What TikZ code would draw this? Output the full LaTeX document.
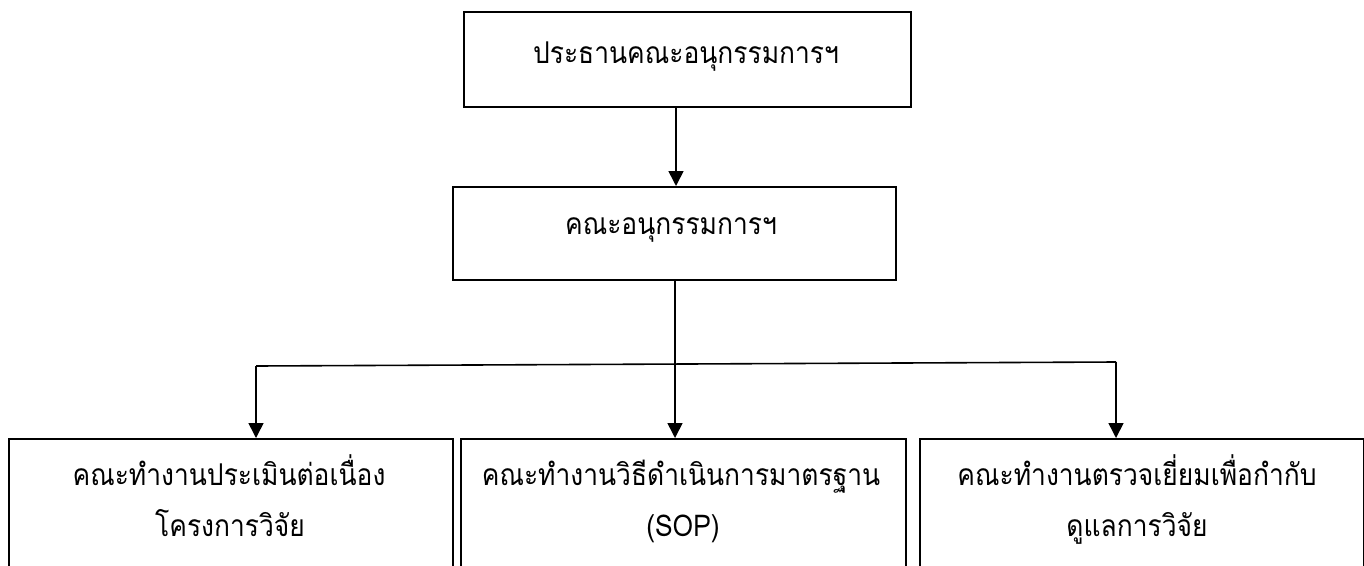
\documentclass[tikz,border=0pt]{standalone}
\usepackage{fontspec}
\setmainfont[Script=Thai,FakeStretch=0.88]{Loma}
\usetikzlibrary{arrows.meta}
\begin{document}
\begin{tikzpicture}[x=1pt,y=-1pt,
  box/.style={draw=black,line width=1.6pt,inner sep=0pt,anchor=north west},
  lbl/.style={font=\fontsize{30}{34}\selectfont,inner sep=0pt,anchor=base},
  conn/.style={line width=1.6pt},
  arr/.style={line width=1.6pt,-{Triangle[width=15pt,length=15pt]}}]
\useasboundingbox (0,0) rectangle (1364,565);
\node[box,minimum width=447pt,minimum height=95pt] (top) at (463,11) {};
\node[box,minimum width=443pt,minimum height=93pt] (mid) at (452,186) {};
\node[box,minimum width=444pt,minimum height=160pt] (b1) at (8,438) {};
\node[box,minimum width=445pt,minimum height=160pt] (b2) at (460,438) {};
\node[box,minimum width=444pt,minimum height=160pt] (b3) at (919,438) {};
\node[lbl] (ttop) at (686,63) {ประธานคณะอนุกรรมการฯ};
\node[lbl] (tmid) at (671,234) {คณะอนุกรรมการฯ};
\node[lbl] (t1a) at (229,485) {คณะทำงานประเมินต่อเนื่อง};
\node[lbl] (t1b) at (230,536) {โครงการวิจัย};
\node[lbl] (t2a) at (681,485) {คณะทำงานวิธีดำเนินการมาตรฐาน};
\node[lbl] (t2b) at (683,536) {(SOP)};
\node[lbl] (t3a) at (1137,485) {คณะทำงานตรวจเยี่ยมเพื่อกำกับ};
\node[lbl] (t3b) at (1137,536) {ดูแลการวิจัย};
\coordinate (hl) at (256,366);
\coordinate (hm) at (675,364);
\coordinate (hr) at (1116,362);
\draw[arr] (top.south -| 676,0) -- (mid.north -| 676,0);
\draw[conn] (mid.south -| hm) -- (hm);
\draw[conn] (hl) -- (hr);
\draw[arr] (hl) -- (b1.north -| hl);
\draw[arr] (hm) -- (b2.north -| hm);
\draw[arr] (hr) -- (b3.north -| hr);
\end{tikzpicture}
\end{document}
